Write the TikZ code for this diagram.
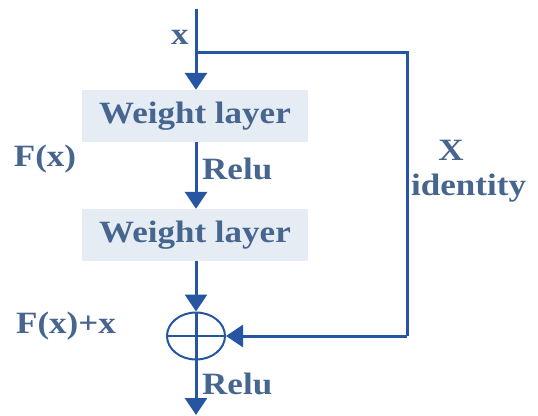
\documentclass[tikz,border=0pt]{standalone}
\usepackage{fontspec}
\setmainfont{Liberation Serif}[FakeStretch=1.13]
\usetikzlibrary{arrows.meta,shapes.geometric}
\definecolor{lineblue}{HTML}{2656A2}
\definecolor{txtblue}{HTML}{46668F}
\definecolor{boxfill}{HTML}{E6ECF4}
\begin{document}
\begin{tikzpicture}[x=1pt,y=-1pt,
  font=\fontsize{31}{34}\selectfont\bfseries,
  conn/.style={draw=lineblue,line width=3pt},
  arr/.style={conn,-{Triangle[length=17pt,width=22pt]}},
  wbox/.style={fill=boxfill,minimum width=226pt,minimum height=52pt,inner sep=0pt,text=txtblue},
  lbl/.style={text=txtblue,inner sep=0pt}]
\useasboundingbox (0,0) rectangle (538,415);
\coordinate (top) at (196,9);
\coordinate (branch) at (196,52);
\coordinate (c1) at (407,52);
\coordinate (c2) at (407,336);
\coordinate (out) at (196,415);
\node[wbox] (w1) at (195,116) {Weight layer};
\node[wbox] (w2) at (195,235) {Weight layer};
\node[ellipse,draw=lineblue,line width=2pt,minimum width=58pt,minimum height=47pt,inner sep=0pt] (sum) at (196,336) {};
\draw[arr] (top) -- (top |- w1.north);
\draw[arr] (top |- w1.south) -- (top |- w2.north);
\draw[arr] (top |- w2.south) -- (sum.north);
\draw[conn] (sum.north) -- (sum.south);
\draw[draw=lineblue,line width=2pt] (sum.west) -- (sum.east);
\draw[arr] (sum.south) -- (out);
\draw[conn] (branch) -- (c1) -- (c2);
\draw[arr] (c2) -- (sum.east);
\node[lbl] (lx) at (180,37) {x};
\node[lbl] (lfx) at (45,159) {F(x)};
\node[lbl,anchor=west] (relu1) at (202,169) {Relu};
\node[lbl] (lX) at (451,150) {X};
\node[lbl,anchor=west] (lid) at (411,188) {identity};
\node[lbl] (lfxx) at (66,326) {F(x)+x};
\node[lbl,anchor=west] (relu2) at (202,384) {Relu};
\end{tikzpicture}
\end{document}
